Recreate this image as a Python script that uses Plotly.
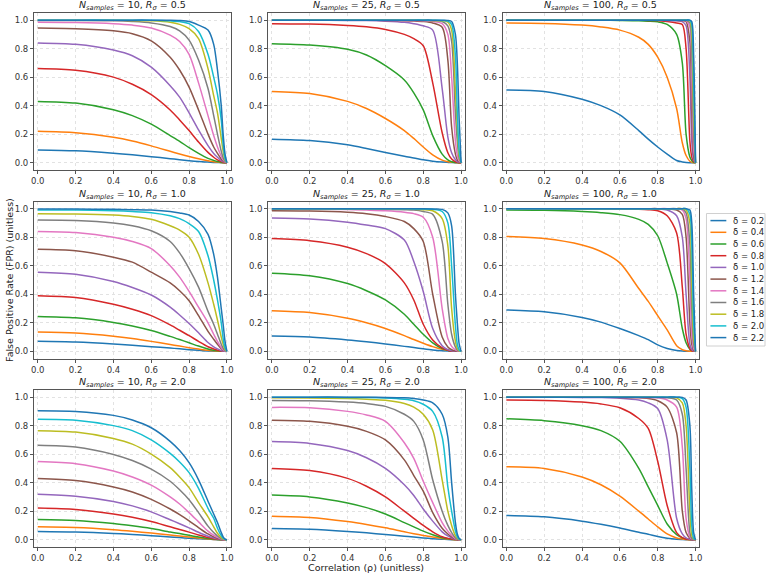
import plotly.graph_objects as go

# ---------------- data ----------------
RHO = [0, 0.2, 0.4, 0.5, 0.6, 0.7, 0.75, 0.8, 0.85, 0.9, 0.93, 0.95, 0.97, 0.98, 0.99, 1.0]
DELTAS = [0.2, 0.4, 0.6, 0.8, 1.0, 1.2, 1.4, 1.6, 1.8, 2.0, 2.2]
N_SAMPLES = [10, 25, 100]
R_SIGMA = [0.5, 1.0, 2.0]
X_TICKS = [0.0, 0.2, 0.4, 0.6, 0.8, 1.0]
Y_TICKS = [0.0, 0.2, 0.4, 0.6, 0.8, 1.0]

FPR_N10_R05 = [
    [0.089, 0.083, 0.066, 0.055, 0.042, 0.028, 0.021, 0.014, 0.008, 0.004, 0.002, 0.001, 0, 0, 0, 0],
    [0.22, 0.21, 0.178, 0.152, 0.118, 0.08, 0.061, 0.043, 0.027, 0.013, 0.007, 0.004, 0.001, 0, 0, 0],
    [0.43, 0.418, 0.372, 0.33, 0.27, 0.19, 0.15, 0.105, 0.065, 0.03, 0.016, 0.008, 0.003, 0.001, 0, 0],
    [0.66, 0.648, 0.6, 0.55, 0.478, 0.37, 0.3, 0.225, 0.145, 0.072, 0.038, 0.02, 0.007, 0.003, 0.001, 0],
    [0.84, 0.83, 0.79, 0.75, 0.67, 0.54, 0.46, 0.35, 0.23, 0.12, 0.065, 0.038, 0.015, 0.007, 0.002, 0],
    [0.945, 0.94, 0.925, 0.905, 0.855, 0.74, 0.65, 0.53, 0.37, 0.2, 0.11, 0.065, 0.025, 0.012, 0.004, 0],
    [0.985, 0.983, 0.975, 0.965, 0.945, 0.895, 0.85, 0.76, 0.56, 0.33, 0.19, 0.11, 0.045, 0.02, 0.006, 0],
    [0.997, 0.997, 0.995, 0.99, 0.98, 0.955, 0.925, 0.86, 0.72, 0.52, 0.33, 0.2, 0.08, 0.035, 0.01, 0],
    [0.999, 0.999, 0.999, 0.998, 0.995, 0.985, 0.97, 0.94, 0.87, 0.66, 0.47, 0.35, 0.17, 0.08, 0.02, 0],
    [1, 1, 1, 0.999, 0.999, 0.995, 0.99, 0.975, 0.92, 0.76, 0.6, 0.48, 0.3, 0.13, 0.03, 0],
    [1, 1, 1, 1, 1, 0.999, 0.997, 0.99, 0.965, 0.93, 0.83, 0.65, 0.4, 0.2, 0.06, 0],
]
FPR_N25_R05 = [
    [0.165, 0.155, 0.125, 0.1, 0.072, 0.045, 0.033, 0.02, 0.01, 0.004, 0.002, 0.001, 0, 0, 0, 0],
    [0.5, 0.485, 0.43, 0.38, 0.31, 0.225, 0.17, 0.11, 0.055, 0.018, 0.007, 0.003, 0.001, 0, 0, 0],
    [0.835, 0.825, 0.795, 0.755, 0.68, 0.58, 0.49, 0.37, 0.19, 0.06, 0.02, 0.007, 0.002, 0.001, 0, 0],
    [0.975, 0.972, 0.962, 0.953, 0.935, 0.9, 0.87, 0.82, 0.56, 0.21, 0.07, 0.025, 0.006, 0.002, 0, 0],
    [0.999, 0.999, 0.998, 0.997, 0.993, 0.985, 0.975, 0.96, 0.93, 0.52, 0.18, 0.07, 0.02, 0.008, 0.002, 0],
    [1, 1, 1, 0.999, 0.998, 0.996, 0.994, 0.99, 0.98, 0.95, 0.72, 0.25, 0.06, 0.02, 0.005, 0],
    [1, 1, 1, 1, 0.999, 0.998, 0.997, 0.996, 0.99, 0.975, 0.9, 0.6, 0.15, 0.05, 0.012, 0],
    [1, 1, 1, 1, 1, 0.999, 0.999, 0.998, 0.996, 0.99, 0.96, 0.85, 0.35, 0.15, 0.03, 0],
    [1, 1, 1, 1, 1, 1, 1, 0.999, 0.998, 0.996, 0.985, 0.93, 0.5, 0.25, 0.05, 0],
    [1, 1, 1, 1, 1, 1, 1, 1, 0.999, 0.998, 0.993, 0.97, 0.75, 0.35, 0.08, 0],
    [1, 1, 1, 1, 1, 1, 1, 1, 1, 0.999, 0.998, 0.99, 0.9, 0.7, 0.3, 0],
]
FPR_N100_R05 = [
    [0.51, 0.5, 0.445, 0.4, 0.335, 0.225, 0.165, 0.11, 0.06, 0.015, 0.005, 0.001, 0, 0, 0, 0],
    [0.98, 0.977, 0.965, 0.952, 0.93, 0.88, 0.83, 0.74, 0.6, 0.38, 0.14, 0.05, 0.01, 0.003, 0, 0],
    [1, 1, 0.999, 0.999, 0.998, 0.996, 0.993, 0.988, 0.97, 0.9, 0.7, 0.2, 0.04, 0.015, 0.003, 0],
    [1, 1, 1, 1, 1, 0.999, 0.998, 0.997, 0.99, 0.98, 0.97, 0.8, 0.15, 0.04, 0.008, 0],
    [1, 1, 1, 1, 1, 1, 1, 0.999, 0.998, 0.995, 0.99, 0.96, 0.6, 0.15, 0.02, 0],
    [1, 1, 1, 1, 1, 1, 1, 1, 0.999, 0.998, 0.997, 0.99, 0.85, 0.35, 0.05, 0],
    [1, 1, 1, 1, 1, 1, 1, 1, 1, 0.999, 0.999, 0.997, 0.95, 0.6, 0.1, 0],
    [1, 1, 1, 1, 1, 1, 1, 1, 1, 1, 1, 0.999, 0.98, 0.8, 0.2, 0],
    [1, 1, 1, 1, 1, 1, 1, 1, 1, 1, 1, 1, 0.995, 0.92, 0.35, 0],
    [1, 1, 1, 1, 1, 1, 1, 1, 1, 1, 1, 1, 0.999, 0.97, 0.55, 0],
    [1, 1, 1, 1, 1, 1, 1, 1, 1, 1, 1, 1, 1, 0.99, 0.75, 0],
]
FPR_N10_R10 = [
    [0.07, 0.065, 0.052, 0.043, 0.033, 0.023, 0.018, 0.012, 0.007, 0.003, 0.001, 0, 0, 0, 0, 0],
    [0.135, 0.128, 0.106, 0.09, 0.07, 0.048, 0.037, 0.026, 0.016, 0.007, 0.004, 0.002, 0, 0, 0, 0],
    [0.245, 0.235, 0.203, 0.178, 0.146, 0.105, 0.083, 0.06, 0.037, 0.017, 0.008, 0.004, 0.001, 0, 0, 0],
    [0.39, 0.377, 0.33, 0.295, 0.25, 0.185, 0.148, 0.11, 0.07, 0.032, 0.016, 0.008, 0.002, 0.001, 0, 0],
    [0.555, 0.54, 0.49, 0.448, 0.395, 0.31, 0.255, 0.195, 0.13, 0.062, 0.032, 0.017, 0.005, 0.002, 0, 0],
    [0.715, 0.705, 0.66, 0.625, 0.555, 0.48, 0.425, 0.355, 0.25, 0.14, 0.085, 0.05, 0.018, 0.008, 0.002, 0],
    [0.84, 0.832, 0.8, 0.77, 0.72, 0.6, 0.52, 0.42, 0.31, 0.2, 0.12, 0.07, 0.027, 0.012, 0.003, 0],
    [0.92, 0.917, 0.9, 0.88, 0.845, 0.77, 0.69, 0.58, 0.45, 0.28, 0.19, 0.12, 0.05, 0.022, 0.005, 0],
    [0.965, 0.963, 0.955, 0.945, 0.925, 0.88, 0.85, 0.8, 0.68, 0.48, 0.33, 0.22, 0.1, 0.05, 0.012, 0],
    [0.99, 0.99, 0.985, 0.98, 0.972, 0.95, 0.93, 0.895, 0.84, 0.67, 0.5, 0.36, 0.2, 0.09, 0.025, 0],
    [0.997, 0.997, 0.995, 0.993, 0.99, 0.98, 0.97, 0.955, 0.91, 0.82, 0.68, 0.52, 0.3, 0.19, 0.07, 0],
]
FPR_N25_R10 = [
    [0.107, 0.1, 0.08, 0.067, 0.052, 0.035, 0.027, 0.018, 0.01, 0.004, 0.002, 0.001, 0, 0, 0, 0],
    [0.285, 0.272, 0.232, 0.2, 0.16, 0.11, 0.083, 0.057, 0.033, 0.014, 0.007, 0.003, 0.001, 0, 0, 0],
    [0.548, 0.53, 0.475, 0.425, 0.36, 0.26, 0.19, 0.12, 0.06, 0.02, 0.008, 0.003, 0.001, 0, 0, 0],
    [0.79, 0.775, 0.73, 0.685, 0.615, 0.48, 0.36, 0.19, 0.08, 0.025, 0.008, 0.003, 0.001, 0, 0, 0],
    [0.935, 0.928, 0.905, 0.885, 0.86, 0.78, 0.63, 0.42, 0.16, 0.04, 0.012, 0.005, 0.001, 0, 0, 0],
    [0.985, 0.983, 0.975, 0.965, 0.945, 0.91, 0.86, 0.77, 0.4, 0.1, 0.03, 0.012, 0.003, 0.001, 0, 0],
    [0.997, 0.996, 0.994, 0.99, 0.985, 0.975, 0.965, 0.94, 0.8, 0.3, 0.09, 0.035, 0.01, 0.004, 0.001, 0],
    [1, 0.999, 0.998, 0.997, 0.996, 0.993, 0.99, 0.98, 0.96, 0.77, 0.33, 0.12, 0.03, 0.01, 0.002, 0],
    [1, 1, 0.999, 0.999, 0.998, 0.997, 0.996, 0.993, 0.985, 0.93, 0.74, 0.3, 0.07, 0.02, 0.004, 0],
    [1, 1, 1, 1, 0.999, 0.999, 0.998, 0.997, 0.995, 0.98, 0.9, 0.6, 0.18, 0.05, 0.01, 0],
    [1, 1, 1, 1, 1, 1, 0.999, 0.999, 0.998, 0.995, 0.97, 0.88, 0.4, 0.2, 0.05, 0],
]
FPR_N100_R10 = [
    [0.29, 0.277, 0.238, 0.205, 0.16, 0.11, 0.082, 0.045, 0.02, 0.006, 0.002, 0.001, 0, 0, 0, 0],
    [0.805, 0.79, 0.745, 0.7, 0.62, 0.44, 0.35, 0.25, 0.15, 0.04, 0.012, 0.004, 0.001, 0, 0, 0],
    [0.99, 0.988, 0.98, 0.972, 0.958, 0.925, 0.89, 0.81, 0.62, 0.4, 0.16, 0.06, 0.015, 0.005, 0.001, 0],
    [1, 1, 0.999, 0.999, 0.998, 0.996, 0.993, 0.985, 0.95, 0.83, 0.45, 0.12, 0.02, 0.006, 0.001, 0],
    [1, 1, 1, 1, 1, 0.999, 0.999, 0.998, 0.99, 0.95, 0.8, 0.4, 0.05, 0.015, 0.003, 0],
    [1, 1, 1, 1, 1, 1, 1, 1, 0.998, 0.99, 0.96, 0.8, 0.2, 0.05, 0.01, 0],
    [1, 1, 1, 1, 1, 1, 1, 1, 1, 0.998, 0.99, 0.93, 0.5, 0.12, 0.02, 0],
    [1, 1, 1, 1, 1, 1, 1, 1, 1, 1, 0.998, 0.97, 0.75, 0.3, 0.05, 0],
    [1, 1, 1, 1, 1, 1, 1, 1, 1, 1, 1, 0.99, 0.9, 0.5, 0.1, 0],
    [1, 1, 1, 1, 1, 1, 1, 1, 1, 1, 1, 1, 0.96, 0.75, 0.2, 0],
    [1, 1, 1, 1, 1, 1, 1, 1, 1, 1, 1, 1, 0.99, 0.9, 0.4, 0],
]
FPR_N10_R20 = [
    [0.058, 0.054, 0.044, 0.037, 0.028, 0.019, 0.015, 0.01, 0.006, 0.003, 0.001, 0, 0, 0, 0, 0],
    [0.09, 0.085, 0.07, 0.059, 0.046, 0.032, 0.025, 0.018, 0.011, 0.005, 0.002, 0.001, 0, 0, 0, 0],
    [0.142, 0.135, 0.113, 0.097, 0.078, 0.054, 0.043, 0.031, 0.019, 0.009, 0.004, 0.002, 0, 0, 0, 0],
    [0.222, 0.212, 0.18, 0.157, 0.127, 0.09, 0.072, 0.053, 0.033, 0.015, 0.007, 0.003, 0.001, 0, 0, 0],
    [0.318, 0.305, 0.268, 0.237, 0.195, 0.14, 0.112, 0.083, 0.052, 0.024, 0.012, 0.006, 0.001, 0, 0, 0],
    [0.43, 0.415, 0.37, 0.335, 0.283, 0.215, 0.175, 0.132, 0.085, 0.04, 0.02, 0.01, 0.003, 0.001, 0, 0],
    [0.548, 0.533, 0.482, 0.44, 0.383, 0.3, 0.25, 0.19, 0.125, 0.06, 0.031, 0.016, 0.005, 0.002, 0, 0],
    [0.663, 0.65, 0.598, 0.555, 0.495, 0.41, 0.35, 0.28, 0.19, 0.095, 0.05, 0.026, 0.008, 0.003, 0.001, 0],
    [0.765, 0.755, 0.71, 0.67, 0.6, 0.505, 0.44, 0.365, 0.26, 0.16, 0.09, 0.045, 0.014, 0.005, 0.001, 0],
    [0.845, 0.838, 0.8, 0.765, 0.7, 0.605, 0.545, 0.47, 0.36, 0.22, 0.15, 0.08, 0.028, 0.01, 0.002, 0],
    [0.905, 0.9, 0.872, 0.84, 0.785, 0.69, 0.625, 0.54, 0.42, 0.27, 0.18, 0.12, 0.05, 0.02, 0.004, 0],
]
FPR_N25_R20 = [
    [0.078, 0.073, 0.058, 0.048, 0.036, 0.024, 0.018, 0.012, 0.007, 0.003, 0.001, 0, 0, 0, 0, 0],
    [0.165, 0.156, 0.127, 0.107, 0.083, 0.055, 0.042, 0.03, 0.018, 0.008, 0.004, 0.002, 0, 0, 0, 0],
    [0.313, 0.3, 0.258, 0.225, 0.18, 0.12, 0.09, 0.06, 0.035, 0.014, 0.006, 0.003, 0.001, 0, 0, 0],
    [0.5, 0.485, 0.43, 0.375, 0.3, 0.2, 0.15, 0.1, 0.055, 0.02, 0.009, 0.004, 0.001, 0, 0, 0],
    [0.688, 0.675, 0.625, 0.575, 0.5, 0.385, 0.31, 0.215, 0.13, 0.055, 0.026, 0.012, 0.003, 0.001, 0, 0],
    [0.838, 0.83, 0.795, 0.76, 0.7, 0.56, 0.45, 0.34, 0.19, 0.08, 0.04, 0.02, 0.005, 0.002, 0, 0],
    [0.928, 0.925, 0.9, 0.875, 0.83, 0.68, 0.57, 0.41, 0.26, 0.12, 0.06, 0.03, 0.008, 0.003, 0, 0],
    [0.977, 0.975, 0.965, 0.955, 0.935, 0.88, 0.83, 0.7, 0.42, 0.2, 0.1, 0.05, 0.014, 0.004, 0.001, 0],
    [0.995, 0.994, 0.99, 0.985, 0.978, 0.955, 0.93, 0.88, 0.77, 0.42, 0.2, 0.1, 0.028, 0.01, 0.002, 0],
    [1, 0.999, 0.998, 0.997, 0.994, 0.985, 0.975, 0.95, 0.9, 0.72, 0.37, 0.2, 0.06, 0.02, 0.004, 0],
    [1, 1, 1, 0.999, 0.998, 0.995, 0.99, 0.98, 0.96, 0.88, 0.72, 0.4, 0.12, 0.04, 0.008, 0],
]
FPR_N100_R20 = [
    [0.17, 0.16, 0.13, 0.108, 0.082, 0.052, 0.038, 0.022, 0.01, 0.003, 0.001, 0, 0, 0, 0, 0],
    [0.512, 0.5, 0.44, 0.385, 0.305, 0.2, 0.145, 0.09, 0.04, 0.012, 0.005, 0.002, 0, 0, 0, 0],
    [0.848, 0.835, 0.8, 0.765, 0.69, 0.5, 0.37, 0.24, 0.11, 0.035, 0.013, 0.005, 0.001, 0, 0, 0],
    [0.98, 0.977, 0.965, 0.952, 0.925, 0.85, 0.78, 0.55, 0.24, 0.05, 0.015, 0.005, 0.001, 0, 0, 0],
    [1, 0.999, 0.998, 0.997, 0.993, 0.98, 0.96, 0.92, 0.7, 0.15, 0.04, 0.012, 0.002, 0, 0, 0],
    [1, 1, 0.999, 0.999, 0.998, 0.995, 0.99, 0.975, 0.93, 0.75, 0.2, 0.05, 0.01, 0.003, 0.001, 0],
    [1, 1, 1, 1, 0.999, 0.998, 0.997, 0.995, 0.98, 0.93, 0.65, 0.15, 0.02, 0.005, 0.001, 0],
    [1, 1, 1, 1, 1, 1, 0.999, 0.998, 0.995, 0.98, 0.88, 0.5, 0.05, 0.01, 0.002, 0],
    [1, 1, 1, 1, 1, 1, 1, 1, 0.999, 0.995, 0.96, 0.8, 0.2, 0.03, 0.005, 0],
    [1, 1, 1, 1, 1, 1, 1, 1, 1, 0.999, 0.99, 0.93, 0.5, 0.1, 0.01, 0],
    [1, 1, 1, 1, 1, 1, 1, 1, 1, 1, 0.998, 0.98, 0.8, 0.35, 0.05, 0],
]

# rows = R_sigma, cols = N_samples
PANEL_DATA = [
    [FPR_N10_R05, FPR_N25_R05, FPR_N100_R05],
    [FPR_N10_R10, FPR_N25_R10, FPR_N100_R10],
    [FPR_N10_R20, FPR_N25_R20, FPR_N100_R20],
]

COLORS = ['#1f77b4', '#ff7f0e', '#2ca02c', '#d62728', '#9467bd', '#8c564b',
          '#e377c2', '#7f7f7f', '#bcbd22', '#17becf', '#1f77b4']

# ---------------- layout geometry (pixels) ----------------
W, H = 770, 574
COL_PX = [(31.2, 229.5), (267.2, 465.5), (503.5, 701.8)]
ROW_PX = [(13.0, 169.8), (201.5, 358.5), (390.0, 546.8)]
FONT = "DejaVu Sans"

fig = go.Figure()
annotations = []
shapes = []

for r in range(3):
    for c in range(3):
        k = r * 3 + c + 1
        sfx = "" if k == 1 else str(k)
        x0, x1 = COL_PX[c]
        ytop, ybot = ROW_PX[r]
        fig.update_layout(**{
            f"xaxis{sfx}": dict(
                domain=[x0 / W, x1 / W], anchor=f"y{sfx}", range=[-0.02, 1.02],
                tickvals=X_TICKS, ticktext=[f"{v:.1f}" for v in X_TICKS],
                showline=True, mirror=True, linecolor="#555", linewidth=1,
                ticks="outside", ticklen=3, tickcolor="#555", tickwidth=1,
                showgrid=True, gridcolor="#e2e2e2", griddash="dot", gridwidth=0.8,
                zeroline=False, tickfont=dict(family=FONT, size=8.5, color="#333"),
            ),
            f"yaxis{sfx}": dict(
                domain=[1 - ybot / H, 1 - ytop / H], anchor=f"x{sfx}", range=[-0.05, 1.05],
                tickvals=Y_TICKS, ticktext=[f"{v:.1f}" for v in Y_TICKS],
                showline=True, mirror=True, linecolor="#555", linewidth=1,
                ticks="outside", ticklen=3, tickcolor="#555", tickwidth=1,
                showgrid=True, gridcolor="#e2e2e2", griddash="dot", gridwidth=0.8,
                zeroline=False, tickfont=dict(family=FONT, size=8.5, color="#333"),
            ),
        })
        data = PANEL_DATA[r][c]
        for i, d in enumerate(DELTAS):
            fig.add_trace(go.Scatter(
                x=RHO, y=data[i], mode="lines", xaxis=f"x{sfx}", yaxis=f"y{sfx}",
                line=dict(color=COLORS[i], width=1.5, shape="spline", smoothing=0.8),
                name=f"δ = {d}", showlegend=False, hoverinfo="skip",
            ))
        title = (f"<i>N</i><sub><i>samples</i></sub> = {N_SAMPLES[c]}, "
                 f"<i>R</i><sub><i>σ</i></sub> = {R_SIGMA[r]}")
        annotations.append(dict(
            text=title, x=(x0 + x1) / 2 / W, y=1 - (ytop - 7.5) / H,
            xref="paper", yref="paper", xanchor="center", yanchor="middle",
            showarrow=False, font=dict(family=FONT, size=9.5, color="#222"),
        ))

# axis labels
annotations.append(dict(
    text="Correlation (ρ) (unitless)", x=(COL_PX[1][0] + COL_PX[1][1]) / 2 / W, y=1 - 567 / H,
    xref="paper", yref="paper", xanchor="center", yanchor="middle", showarrow=False,
    font=dict(family=FONT, size=9.5, color="#222"),
))
annotations.append(dict(
    text="False Positive Rate (FPR) (unitless)", x=6 / W,
    y=1 - (ROW_PX[1][0] + ROW_PX[1][1]) / 2 / H,
    xref="paper", yref="paper", xanchor="center", yanchor="middle", textangle=-90,
    showarrow=False, font=dict(family=FONT, size=9.5, color="#222"),
))

# legend (drawn in paper coordinates)
LEG_LEFT, LEG_RIGHT, LEG_TOP, LEG_BOT = 709, 768, 213.5, 346
shapes.append(dict(type="rect", xref="paper", yref="paper",
                   x0=LEG_LEFT / W, x1=LEG_RIGHT / W, y0=1 - LEG_BOT / H, y1=1 - LEG_TOP / H,
                   line=dict(color="#d0d0d0", width=1), fillcolor="white"))
for i, d in enumerate(DELTAS):
    yy = 1 - (220.6 + 11.7 * i) / H
    shapes.append(dict(type="line", xref="paper", yref="paper",
                       x0=713 / W, x1=729 / W, y0=yy, y1=yy,
                       line=dict(color=COLORS[i], width=1.5)))
    annotations.append(dict(
        text=f"δ = {d}", x=734 / W, y=yy, xref="paper", yref="paper",
        xanchor="left", yanchor="middle", showarrow=False,
        font=dict(family=FONT, size=8.5, color="#222"),
    ))

fig.update_layout(
    width=W, height=H, margin=dict(l=0, r=0, t=0, b=0),
    paper_bgcolor="white", plot_bgcolor="white",
    annotations=annotations, shapes=shapes, showlegend=False,
    font=dict(family=FONT),
)

fig.write_html("out.html")
